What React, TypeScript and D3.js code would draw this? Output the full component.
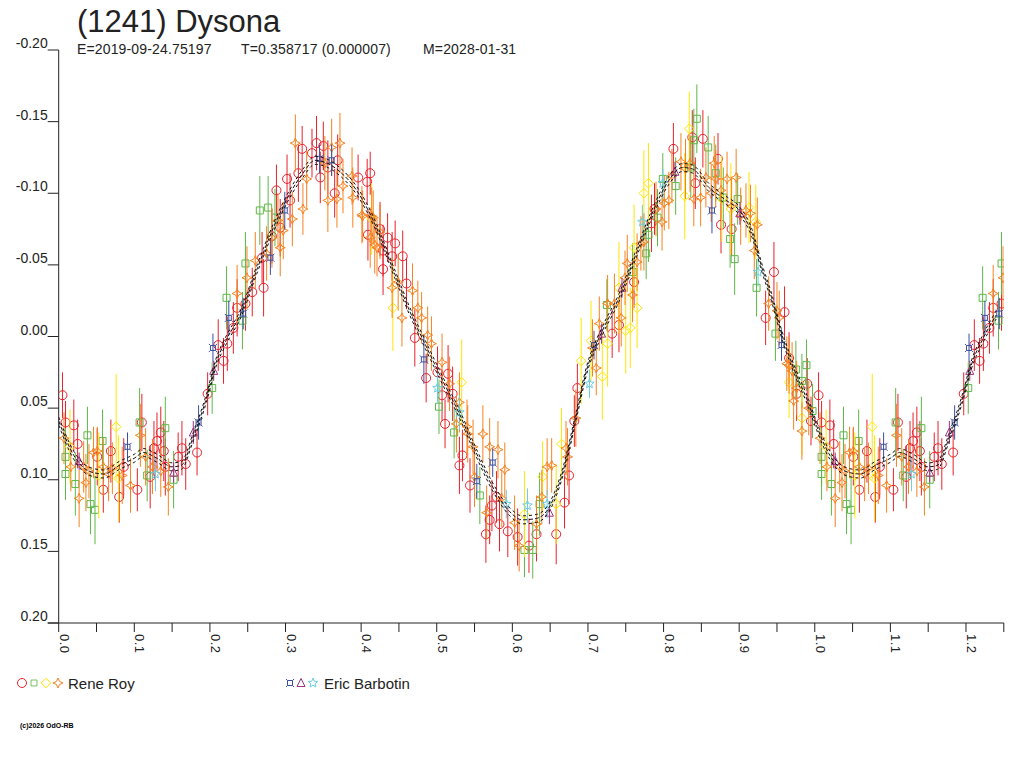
import * as d3 from 'd3';

// [phase, reduced magnitude, error]
type Obs = [number, number, number];

const royCircles: Obs[] = [
  [0.005, 0.041, 0.016], [0.009, 0.06, 0.015], [0.02, 0.062, 0.018], [0.025, 0.075, 0.017], [0.051, 0.084, 0.02],
  [0.059, 0.107, 0.016], [0.069, 0.08, 0.022], [0.08, 0.112, 0.018], [0.086, 0.091, 0.02], [0.104, 0.107, 0.015],
  [0.11, 0.06, 0.02], [0.121, 0.098, 0.022], [0.126, 0.078, 0.019], [0.13, 0.073, 0.02], [0.135, 0.067, 0.018],
  [0.139, 0.08, 0.021], [0.141, 0.091, 0.02], [0.158, 0.084, 0.017], [0.163, 0.078, 0.019], [0.168, 0.089, 0.018],
  [0.183, 0.081, 0.016], [0.197, 0.04, 0.015], [0.218, 0.017, 0.016], [0.211, 0.006, 0.018], [0.223, 0.005, 0.019],
  [0.231, -0.006, 0.018], [0.236, -0.02, 0.02], [0.247, -0.023, 0.019], [0.256, -0.031, 0.017], [0.271, -0.034, 0.02],
  [0.269, -0.055, 0.018], [0.282, -0.07, 0.019], [0.293, -0.076, 0.02], [0.288, -0.102, 0.018], [0.302, -0.11, 0.017],
  [0.306, -0.095, 0.019], [0.317, -0.114, 0.02], [0.322, -0.131, 0.016], [0.335, -0.128, 0.017], [0.341, -0.135, 0.019],
  [0.346, -0.111, 0.018], [0.35, -0.133, 0.017], [0.356, -0.118, 0.019], [0.369, -0.123, 0.018], [0.365, -0.1, 0.017],
  [0.396, -0.111, 0.016], [0.408, -0.108, 0.016], [0.412, -0.114, 0.015], [0.429, -0.047, 0.018], [0.425, -0.075, 0.019],
  [0.409, -0.071, 0.018], [0.435, -0.069, 0.017], [0.445, -0.065, 0.016], [0.429, -0.06, 0.018], [0.441, -0.056, 0.017],
  [0.455, -0.056, 0.018], [0.46, -0.037, 0.018], [0.471, 0.001, 0.02], [0.486, 0.029, 0.017], [0.501, 0.025, 0.018],
  [0.515, 0.026, 0.02], [0.507, 0.041, 0.018], [0.521, 0.04, 0.019], [0.511, 0.061, 0.017], [0.534, 0.083, 0.018],
  [0.53, 0.09, 0.02], [0.544, 0.104, 0.019], [0.573, 0.118, 0.018], [0.57, 0.128, 0.017], [0.583, 0.131, 0.019],
  [0.579, 0.112, 0.018], [0.607, 0.14, 0.02], [0.632, 0.138, 0.019], [0.658, 0.138, 0.021], [0.669, 0.116, 0.018],
  [0.675, 0.097, 0.02], [0.682, 0.059, 0.018], [0.686, 0.036, 0.017], [0.732, -0.002, 0.017], [0.741, -0.008, 0.019],
  [0.761, -0.038, 0.018], [0.784, -0.079, 0.02], [0.788, -0.089, 0.018], [0.813, -0.131, 0.018], [0.838, -0.139, 0.019],
  [0.842, -0.107, 0.018], [0.852, -0.138, 0.02], [0.872, -0.124, 0.018], [0.876, -0.078, 0.02], [0.89, -0.075, 0.019],
  [0.946, -0.045, 0.021], [0.935, -0.013, 0.019], [0.96, -0.017, 0.018], [0.966, 0.015, 0.018], [0.976, 0.04, 0.019],
  [0.99, 0.033, 0.018], [0.995, 0.059, 0.017], [0.594, 0.136, 0.018], [0.622, 0.146, 0.019], [0.565, 0.138, 0.02],
];

const roySquares: Obs[] = [
  [0.009, 0.084, 0.02], [0.009, 0.096, 0.018], [0.022, 0.103, 0.022], [0.038, 0.069, 0.02], [0.042, 0.117, 0.021],
  [0.048, 0.121, 0.024], [0.058, 0.073, 0.022], [0.107, 0.06, 0.024], [0.117, 0.097, 0.018], [0.141, 0.064, 0.022],
  [0.152, 0.1, 0.02], [0.203, 0.036, 0.018], [0.222, -0.027, 0.022], [0.243, -0.011, 0.02], [0.247, -0.051, 0.022],
  [0.266, -0.088, 0.024], [0.277, -0.09, 0.022], [0.286, -0.083, 0.02], [0.503, 0.049, 0.019], [0.523, 0.067, 0.018],
  [0.557, 0.111, 0.02], [0.616, 0.149, 0.019], [0.627, 0.149, 0.02], [0.636, 0.117, 0.022], [0.725, -0.022, 0.018],
  [0.759, -0.045, 0.02], [0.777, -0.058, 0.018], [0.78, -0.071, 0.019], [0.792, -0.083, 0.02], [0.799, -0.11, 0.018],
  [0.816, -0.105, 0.02], [0.836, -0.118, 0.021], [0.84, -0.137, 0.022], [0.844, -0.152, 0.024], [0.859, -0.132, 0.022],
  [0.869, -0.114, 0.02], [0.879, -0.097, 0.021], [0.888, -0.068, 0.02], [0.894, -0.054, 0.025], [0.898, -0.096, 0.018],
  [0.923, -0.034, 0.02], [0.948, -0.002, 0.019], [0.975, 0.023, 0.02], [0.989, 0.02, 0.018], [0.983, 0.031, 0.019],
  [0.997, 0.052, 0.019],
];

const royDiamonds: Obs[] = [
  [0.015, 0.077, 0.026], [0.053, 0.097, 0.03], [0.076, 0.063, 0.037], [0.079, 0.099, 0.03], [0.414, -0.082, 0.025],
  [0.442, -0.02, 0.03], [0.533, 0.032, 0.03], [0.616, 0.124, 0.03], [0.64, 0.098, 0.025], [0.658, 0.117, 0.028],
  [0.665, 0.075, 0.025], [0.691, 0.017, 0.03], [0.704, 0.003, 0.028], [0.719, 0.028, 0.03], [0.726, 0.005, 0.03],
  [0.741, -0.034, 0.032], [0.75, -0.004, 0.03], [0.756, -0.006, 0.028], [0.761, -0.062, 0.03], [0.765, -0.02, 0.028],
  [0.774, -0.1, 0.03], [0.78, -0.107, 0.028], [0.828, -0.098, 0.03], [0.834, -0.145, 0.026], [0.877, -0.096, 0.03],
  [0.889, -0.089, 0.032], [0.913, -0.09, 0.025], [0.922, -0.08, 0.026], [0.966, 0.032, 0.025], [0.983, 0.057, 0.026],
];

const royStars: Obs[] = [
  [0.007, 0.071, 0.018], [0.016, 0.091, 0.017], [0.027, 0.113, 0.02], [0.033, 0.091, 0.018], [0.036, 0.102, 0.02],
  [0.04, 0.094, 0.019], [0.046, 0.081, 0.018], [0.051, 0.08, 0.017], [0.059, 0.091, 0.02], [0.066, 0.096, 0.019],
  [0.071, 0.092, 0.018], [0.084, 0.097, 0.02], [0.095, 0.104, 0.019], [0.108, 0.069, 0.022], [0.115, 0.084, 0.02],
  [0.124, 0.091, 0.019], [0.135, 0.094, 0.018], [0.145, 0.105, 0.02], [0.236, -0.03, 0.02], [0.249, -0.041, 0.022],
  [0.26, -0.053, 0.02], [0.275, -0.058, 0.019], [0.282, -0.069, 0.021], [0.293, -0.062, 0.02], [0.29, -0.081, 0.019],
  [0.297, -0.074, 0.02], [0.309, -0.082, 0.019], [0.313, -0.135, 0.02], [0.323, -0.089, 0.018], [0.328, -0.11, 0.02],
  [0.352, -0.121, 0.019], [0.361, -0.132, 0.02], [0.372, -0.135, 0.021], [0.356, -0.095, 0.022], [0.368, -0.096, 0.02],
  [0.376, -0.105, 0.019], [0.388, -0.112, 0.02], [0.389, -0.097, 0.021], [0.401, -0.085, 0.02], [0.416, -0.083, 0.019],
  [0.412, -0.069, 0.021], [0.421, -0.062, 0.02], [0.402, -0.084, 0.018], [0.414, -0.084, 0.02], [0.425, -0.073, 0.019],
  [0.418, -0.064, 0.02], [0.441, -0.034, 0.021], [0.449, -0.038, 0.02], [0.468, -0.032, 0.019], [0.454, -0.013, 0.02],
  [0.475, -0.02, 0.019], [0.48, -0.013, 0.018], [0.488, -0.001, 0.02], [0.493, 0.005, 0.019], [0.507, 0.018, 0.02],
  [0.517, 0.033, 0.019], [0.53, 0.046, 0.021], [0.526, 0.061, 0.02], [0.54, 0.063, 0.019], [0.541, 0.068, 0.02],
  [0.548, 0.077, 0.019], [0.561, 0.068, 0.02], [0.57, 0.077, 0.02], [0.581, 0.079, 0.02], [0.59, 0.093, 0.019],
  [0.55, 0.098, 0.021], [0.566, 0.123, 0.019], [0.586, 0.113, 0.02], [0.603, 0.13, 0.019], [0.609, 0.146, 0.018],
  [0.632, 0.131, 0.02], [0.639, 0.112, 0.019], [0.646, 0.091, 0.02], [0.652, 0.09, 0.019], [0.673, 0.084, 0.02],
  [0.671, 0.078, 0.019], [0.684, 0.057, 0.02], [0.711, 0.022, 0.019], [0.706, 0.008, 0.02], [0.715, -0.009, 0.019],
  [0.726, -0.023, 0.02], [0.735, -0.023, 0.021], [0.744, -0.013, 0.02], [0.749, -0.041, 0.019], [0.752, -0.051, 0.02],
  [0.759, -0.029, 0.019], [0.765, -0.052, 0.02], [0.77, -0.065, 0.019], [0.774, -0.066, 0.02], [0.79, -0.089, 0.019],
  [0.798, -0.08, 0.02], [0.801, -0.093, 0.019], [0.807, -0.095, 0.02], [0.811, -0.112, 0.019], [0.823, -0.122, 0.02],
  [0.829, -0.117, 0.021], [0.835, -0.121, 0.02], [0.84, -0.096, 0.019], [0.849, -0.097, 0.02], [0.856, -0.111, 0.021],
  [0.863, -0.1, 0.02], [0.867, -0.121, 0.019], [0.869, -0.11, 0.02], [0.876, -0.102, 0.02], [0.884, -0.11, 0.019],
  [0.896, -0.111, 0.02], [0.89, -0.091, 0.019], [0.902, -0.084, 0.02], [0.909, -0.088, 0.019], [0.915, -0.086, 0.02],
  [0.924, -0.078, 0.019], [0.92, -0.06, 0.02], [0.939, -0.023, 0.019], [0.95, -0.018, 0.02], [0.953, -0.013, 0.019],
  [0.966, 0.02, 0.02], [0.963, 0.019, 0.019], [0.97, 0.024, 0.02], [0.976, 0.036, 0.019], [0.972, 0.045, 0.02],
  [0.992, 0.05, 0.019], [0.983, 0.066, 0.02],
];

const barbotinCross: Obs[] = [
  [0.091, 0.077, 0.01], [0.185, 0.06, 0.012], [0.204, 0.008, 0.01], [0.225, -0.013, 0.012], [0.244, -0.016, 0.011],
  [0.28, -0.055, 0.012], [0.299, -0.088, 0.013], [0.345, -0.124, 0.01], [0.361, -0.123, 0.011], [0.483, 0.016, 0.017],
  [0.553, 0.101, 0.012], [0.574, 0.088, 0.01], [0.708, 0.006, 0.01], [0.864, -0.088, 0.016], [0.956, 0.006, 0.011],
];

const barbotinTriangles: Obs[] = [
  [0.027, 0.087, 0.006], [0.152, 0.095, 0.007], [0.178, 0.067, 0.008], [0.205, 0.024, 0.007], [0.649, 0.123, 0.008],
  [0.718, -0.002, 0.007], [0.745, -0.034, 0.007], [0.815, -0.115, 0.007], [0.901, -0.086, 0.008],
];

const barbotinStars: Obs[] = [
  [0.128, 0.096, 0.012], [0.501, 0.036, 0.01], [0.53, 0.053, 0.012], [0.592, 0.117, 0.01], [0.62, 0.118, 0.012],
  [0.646, 0.117, 0.01], [0.702, 0.033, 0.01], [0.772, -0.08, 0.012], [0.799, -0.107, 0.01], [0.925, -0.045, 0.01],
];

// fitted lightcurve (phase, magnitude)
const fitPhase = [
  0, 0.02, 0.04, 0.06, 0.08, 0.1, 0.112, 0.13, 0.15, 0.162, 0.178, 0.197, 0.207, 0.222, 0.24, 0.263, 0.284, 0.306,
  0.323, 0.339, 0.355, 0.372, 0.394, 0.416, 0.442, 0.464, 0.487, 0.508, 0.53, 0.553, 0.574, 0.596, 0.613, 0.632,
  0.649, 0.666, 0.685, 0.698, 0.719, 0.741, 0.764, 0.785, 0.807, 0.825, 0.838, 0.86, 0.883, 0.9, 0.917, 0.93, 0.943,
  0.956, 0.975, 0.992, 1,
];
const fitMag = [
  0.059, 0.083, 0.094, 0.096, 0.09, 0.085, 0.081, 0.085, 0.091, 0.09, 0.07, 0.04, 0.02, 0.002, -0.015, -0.048, -0.076,
  -0.1, -0.114, -0.123, -0.121, -0.115, -0.102, -0.081, -0.047, -0.018, 0.008, 0.031, 0.054, 0.082, 0.105, 0.122,
  0.128, 0.127, 0.119, 0.096, 0.054, 0.024, -0.004, -0.027, -0.058, -0.086, -0.109, -0.118, -0.117, -0.104, -0.095,
  -0.088, -0.072, -0.048, -0.027, -0.002, 0.026, 0.047, 0.059,
];
const fitSpread = 0.0028;

const xTicks = d3.range(0, 26).map((i) => i * 0.05);
const xLabels = [0, 0.1, 0.2, 0.3, 0.4, 0.5, 0.6, 0.7, 0.8, 0.9, 1.0, 1.1, 1.2];
const yTicks = [-0.2, -0.15, -0.1, -0.05, 0, 0.05, 0.1, 0.15, 0.2];

const title = '(1241) Dysona';
const subtitle = ['E=2019-09-24.75197', 'T=0.358717 (0.000007)', 'M=2028-01-31'];

const FONT = 'Liberation Sans, Arial, sans-serif';
const PHASE_MAX = 1.25;

const x = d3.scaleLinear().domain([0, PHASE_MAX]).range([58.7, 1003.8]);
const y = d3.scaleLinear().domain([-0.2, 0.2]).range([50, 623]);

type Kind = 'circle' | 'square' | 'diamond' | 'star4' | 'cross' | 'triangle' | 'star5';

function markerPath(kind: Kind): string {
  switch (kind) {
    case 'circle':
      return 'M4.5,0A4.5,4.5 0 1,1 -4.5,0A4.5,4.5 0 1,1 4.5,0Z';
    case 'square':
      return 'M-3.5,-3.5H3.5V3.5H-3.5Z';
    case 'diamond':
      return 'M0,-4.8L4.8,0L0,4.8L-4.8,0Z';
    case 'star4':
      return 'M0,-5Q0.6,-0.6 5,0Q0.6,0.6 0,5Q-0.6,0.6 -5,0Q-0.6,-0.6 0,-5Z';
    case 'cross':
      return 'M-2.5,-2.5H2.5V2.5H-2.5Z M-2.5,-2.5L-4,-4 M2.5,-2.5L4,-4 M2.5,2.5L4,4 M-2.5,2.5L-4,4';
    case 'triangle':
      return 'M0,-4.5L4,3.5H-4Z';
    case 'star5': {
      const pts: string[] = [];
      for (let i = 0; i < 10; i++) {
        const r = i % 2 === 0 ? 5 : 2.2;
        const a = (Math.PI / 5) * i - Math.PI / 2;
        pts.push(`${(r * Math.cos(a)).toFixed(2)},${(r * Math.sin(a)).toFixed(2)}`);
      }
      return 'M' + pts.join('L') + 'Z';
    }
  }
}

const series: { data: Obs[]; kind: Kind; color: string }[] = [
  { data: royCircles, kind: 'circle', color: '#e8212b' },
  { data: roySquares, kind: 'square', color: '#5db847' },
  { data: royDiamonds, kind: 'diamond', color: '#ffe600' },
  { data: royStars, kind: 'star4', color: '#f5821f' },
  { data: barbotinCross, kind: 'cross', color: '#3b4ea2' },
  { data: barbotinTriangles, kind: 'triangle', color: '#a2317f' },
  { data: barbotinStars, kind: 'star5', color: '#6bcce0' },
];

// phase folding: points of the first quarter are repeated after phase 1
function folded<T extends [number, ...number[]]>(rows: T[]): T[] {
  const extra = rows.filter((r) => r[0] + 1 <= PHASE_MAX && r[0] < 1).map((r) => [r[0] + 1, ...r.slice(1)] as unknown as T);
  return rows.concat(extra);
}

export default function App() {
  const fitRows = folded(fitPhase.map((p, i) => [p, fitMag[i]] as [number, number]))
    .filter((r, i, arr) => arr.findIndex((q) => Math.abs(q[0] - r[0]) < 1e-9) === i)
    .sort((a, b) => a[0] - b[0]);

  const fitLine = (offset: number) =>
    d3
      .line<[number, number]>()
      .x((d) => x(d[0]))
      .y((d) => y(d[1] + offset))
      .curve(d3.curveMonotoneX)(fitRows) || '';

  return (
    <svg
      width={1024}
      height={768}
      style={{ position: 'absolute', left: 0, top: 0, background: '#fff' }}
      fontFamily={FONT}
    >
      <defs>
        <clipPath id="plot">
          <rect x={x(0)} y={y(-0.2) - 10} width={x(PHASE_MAX) - x(0)} height={y(0.2) - y(-0.2) + 10} />
        </clipPath>
      </defs>

      <text x={77} y={32} fontSize={31} fill="#222">
        {title}
      </text>
      <text x={77} y={54} fontSize={14} fill="#222" letterSpacing={0.15}>
        {subtitle[0]}
      </text>
      <text x={241} y={54} fontSize={14} fill="#222" letterSpacing={0.15}>
        {subtitle[1]}
      </text>
      <text x={423} y={54} fontSize={14} fill="#222" letterSpacing={0.15}>
        {subtitle[2]}
      </text>

      {/* y axis */}
      <line x1={x(0)} x2={x(0)} y1={y(-0.2)} y2={y(0.2)} stroke="#222" />
      {yTicks.map((t) => (
        <g key={t}>
          <line x1={x(0) - 11} x2={x(0)} y1={y(t)} y2={y(t)} stroke="#222" />
          <text x={x(0) - 11} y={y(t) - 2} fontSize={14} textAnchor="end" fill="#222">
            {t.toFixed(2)}
          </text>
        </g>
      ))}

      {/* x axis */}
      <line x1={x(0) - 11} x2={x(PHASE_MAX)} y1={y(0.2)} y2={y(0.2)} stroke="#222" />
      {xTicks.map((t) => (
        <line key={t} x1={x(t)} x2={x(t)} y1={y(0.2)} y2={y(0.2) + 9} stroke="#222" />
      ))}
      {xLabels.map((t) => (
        <text
          key={t}
          transform={`translate(${x(t) + 1},${y(0.2) + 11}) rotate(90)`}
          fontSize={13}
          fill="#222"
          letterSpacing={0.5}
        >
          {t.toFixed(1)}
        </text>
      ))}

      <g clipPath="url(#plot)">
        {series.map((s, si) => (
          <g key={si} stroke={s.color} fill="none">
            {folded(s.data).map((d, i) => (
              <g key={i}>
                <line x1={x(d[0])} x2={x(d[0])} y1={y(d[1] - d[2])} y2={y(d[1] + d[2])} />
                <path d={markerPath(s.kind)} transform={`translate(${x(d[0])},${y(d[1])})`} />
              </g>
            ))}
          </g>
        ))}
        <path d={fitLine(0)} fill="none" stroke="#111" strokeDasharray="4,2" />
        <path d={fitLine(-fitSpread)} fill="none" stroke="#111" strokeDasharray="3,3" />
        <path d={fitLine(fitSpread)} fill="none" stroke="#111" strokeDasharray="3,3" />
      </g>

      {/* legend */}
      <g fill="none">
        <path d={markerPath('circle')} transform="translate(22,683)" stroke="#e8212b" />
        <path d={markerPath('square')} transform="translate(34,683) scale(0.85)" stroke="#5db847" />
        <path d={markerPath('diamond')} transform="translate(46,683)" stroke="#ffe600" />
        <path d={markerPath('star4')} transform="translate(58,683)" stroke="#f5821f" />
        <path d={markerPath('cross')} transform="translate(290,683)" stroke="#3b4ea2" />
        <path d={markerPath('triangle')} transform="translate(301,683)" stroke="#a2317f" />
        <path d={markerPath('star5')} transform="translate(313,683)" stroke="#6bcce0" />
      </g>
      <text x={68} y={689} fontSize={15} fill="#222">
        Rene Roy
      </text>
      <text x={324} y={689} fontSize={15} fill="#222">
        Eric Barbotin
      </text>
      <text x={20} y={728} fontSize={7} fontWeight="bold" fill="#000">
        (c)2026 OdO-RB
      </text>
    </svg>
  );
}
